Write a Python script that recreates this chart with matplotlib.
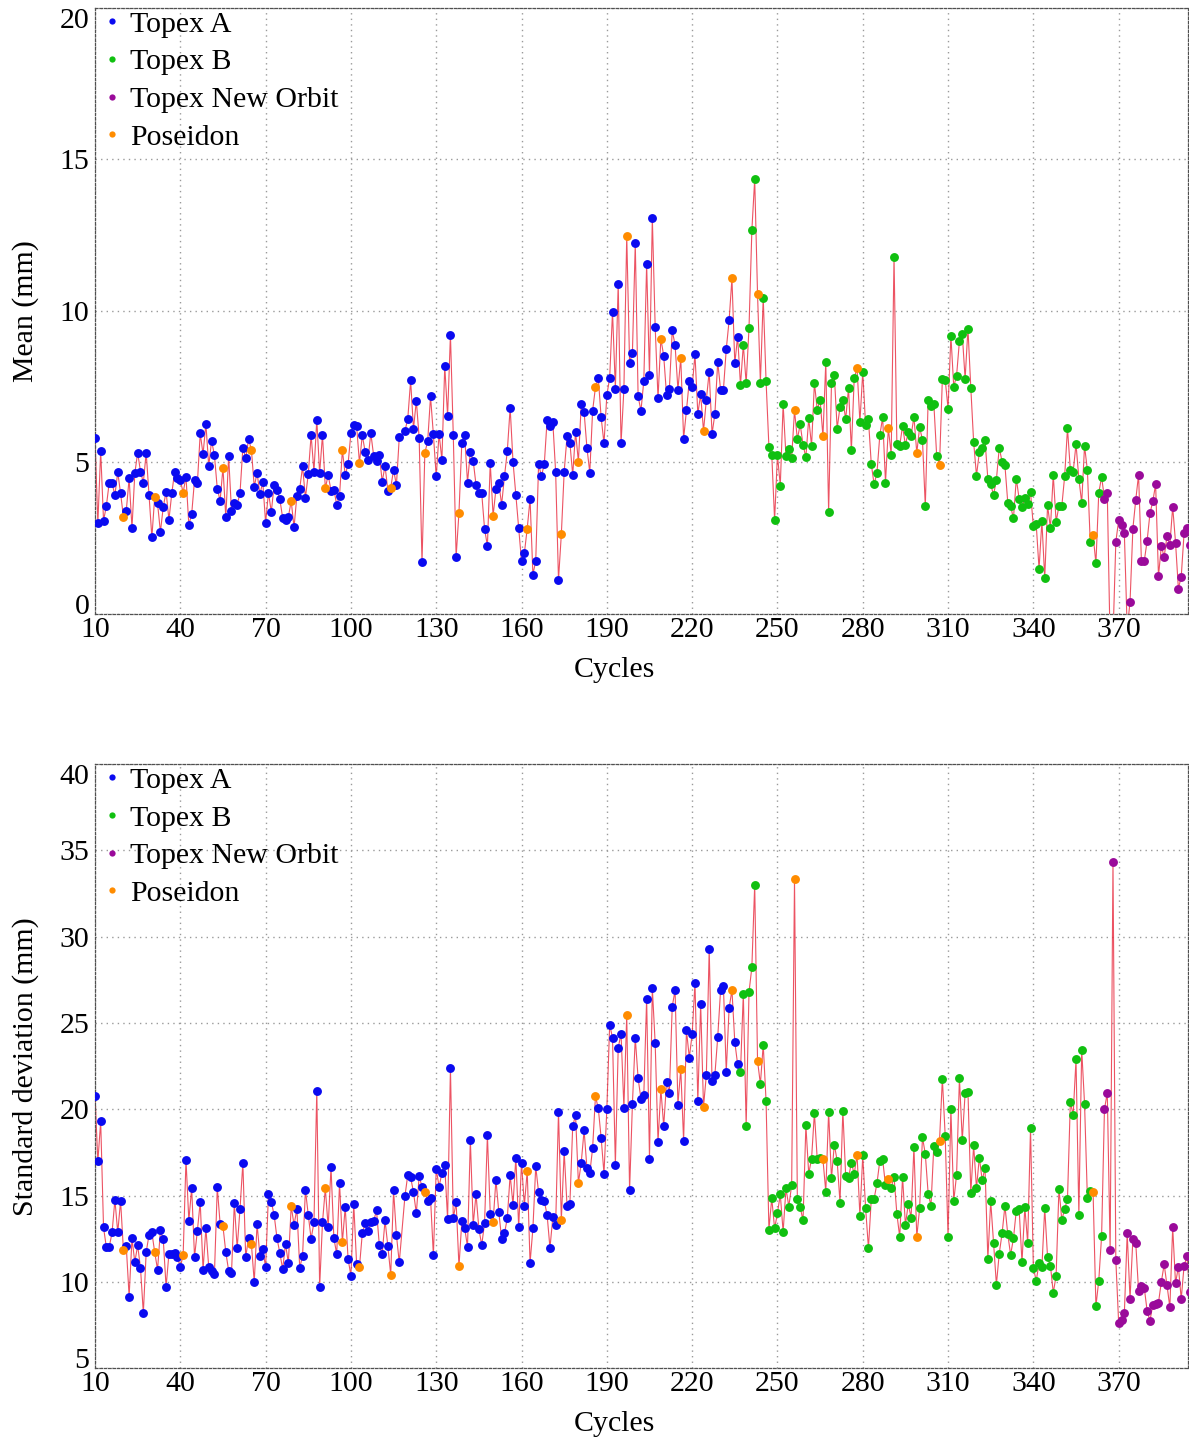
import matplotlib
matplotlib.use("Agg")
import matplotlib.pyplot as plt
from matplotlib.lines import Line2D
import numpy as np

plt.rcParams['font.family'] = ['Liberation Serif', 'DejaVu Serif']

# cycle 118 has no data
cycles = [c for c in range(10, 396) if c != 118]

mean_mm = [
    5.79, 2.98, 5.37, 3.07, 3.56, 4.33, 4.30, 3.92, 4.67, 3.97,   # 10
    3.20, 3.40, 4.47, 2.83, 4.63, 5.32, 4.69, 4.33, 5.32, 3.93,   # 20
    2.52, 3.86, 3.64, 2.70, 3.52, 4.03, 3.10, 3.97, 4.68, 4.47,   # 30
    4.40, 4.00, 4.52, 2.93, 3.29, 4.41, 4.30, 5.95, 5.27, 6.27,   # 40
    4.87, 5.71, 5.23, 4.13, 3.73, 4.82, 3.18, 5.20, 3.39, 3.67,   # 50
    3.59, 3.99, 5.48, 5.13, 5.76, 5.42, 4.19, 4.65, 3.94, 4.35,   # 60
    3.00, 4.00, 3.36, 4.25, 4.10, 3.78, 3.16, 3.10, 3.20, 3.72,   # 70
    2.85, 3.90, 4.13, 4.86, 3.83, 4.61, 5.90, 4.69, 6.41, 4.63,   # 80
    5.90, 4.14, 4.58, 4.06, 4.10, 3.60, 3.90, 5.40, 4.57, 4.94,   # 90
    5.97, 6.22, 6.20, 4.98, 5.89, 5.35, 5.08, 5.96, 5.21, 5.04,   # 100
    5.25, 4.36, 4.88, 4.06, 4.16, 4.75, 4.24, 5.82, 6.03,         # 110 (no 118)
    6.44, 7.70, 6.10, 7.03, 5.81, 1.70, 5.31, 5.70, 7.17, 5.92,   # 120
    4.53, 5.94, 5.08, 8.18, 6.53, 9.21, 5.89, 1.88, 3.34, 5.63,   # 130
    5.89, 4.33, 5.34, 5.05, 4.25, 3.98, 3.98, 2.80, 2.24, 4.98,   # 140
    3.23, 4.12, 4.32, 3.60, 4.53, 5.37, 6.80, 5.02, 3.92, 2.83,   # 150
    1.73, 2.00, 2.81, 3.79, 1.29, 1.75, 4.93, 4.55, 4.93, 6.40,   # 160
    6.20, 6.34, 4.67, 1.12, 2.62, 4.69, 5.85, 5.65, 4.58, 6.00,   # 170
    5.02, 6.92, 6.66, 5.48, 4.66, 6.70, 7.48, 7.77, 6.48, 5.62,   # 180
    7.21, 7.79, 9.97, 7.43, 10.88, 5.62, 7.41, 12.48, 8.28, 8.62,  # 190
    12.23, 7.17, 6.70, 7.68, 11.54, 7.87, 13.06, 9.47, 7.11, 9.08,  # 200
    8.51, 7.22, 7.43, 9.35, 8.87, 7.40, 8.44, 5.78, 6.71, 7.69,   # 210
    7.48, 8.56, 6.60, 7.24, 6.03, 7.07, 7.99, 5.94, 6.59, 8.32,   # 220
    7.39, 7.39, 8.73, 9.68, 11.07, 8.26, 9.15, 7.54, 8.88, 7.60,  # 230
    9.44, 12.65, 14.34, 10.55, 7.63, 10.43, 7.68, 5.51, 5.25, 3.09,  # 240
    5.24, 4.23, 6.92, 5.19, 5.43, 5.15, 6.71, 5.76, 6.25, 5.58,   # 250
    5.16, 6.45, 5.54, 7.62, 6.73, 7.07, 5.85, 8.31, 3.35, 7.60,   # 260
    7.88, 6.11, 6.83, 7.06, 6.42, 7.45, 5.39, 7.78, 8.10, 6.32,   # 270
    7.98, 6.22, 6.42, 4.94, 4.27, 4.65, 5.89, 6.48, 4.33, 6.13,   # 280
    5.25, 11.79, 5.60, 5.55, 6.20, 5.56, 6.01, 5.88, 6.50, 5.31,  # 290
    6.15, 5.74, 3.54, 7.07, 6.87, 6.93, 5.21, 4.92, 7.76, 7.72,   # 300
    6.77, 9.18, 7.49, 7.86, 9.00, 9.23, 7.75, 9.41, 7.46, 5.66,   # 310
    4.56, 5.33, 5.46, 5.73, 4.44, 4.27, 3.92, 4.42, 5.48, 5.02,   # 320
    4.90, 3.67, 3.54, 3.15, 4.46, 3.79, 3.51, 3.81, 3.62, 4.01,   # 330
    2.88, 2.96, 1.48, 3.06, 1.17, 3.58, 2.83, 4.58, 3.04, 3.55,   # 340
    3.55, 4.53, 6.12, 4.76, 4.68, 5.60, 4.46, 3.66, 5.54, 4.74,   # 350
    2.37, 2.60, 1.66, 3.99, 4.52, 3.80, 3.97, -1.00, -0.80, 2.37,  # 360
    3.09, 2.92, 2.65, -0.50, 0.39, 2.81, 3.75, 4.59, 1.74, 1.74,  # 370
    2.40, 3.31, 3.71, 4.27, 1.24, 2.23, 1.88, 2.56, 2.27, 3.53,   # 380
    2.35, 0.83, 1.22, 2.65, 2.84, 2.26,                           # 390
]

std_mm = [
    20.80, 16.98, 19.30, 13.16, 12.00, 12.02, 12.87, 14.76, 12.87, 14.70,  # 10
    11.83, 12.06, 9.16, 12.52, 11.15, 12.12, 10.81, 8.20, 11.73, 12.73,    # 20
    12.87, 11.72, 10.71, 12.99, 12.49, 9.71, 11.64, 11.64, 11.68, 11.45,   # 30
    10.87, 11.56, 17.08, 13.56, 15.44, 11.45, 12.97, 14.63, 10.71, 13.12,  # 40
    10.85, 10.65, 10.46, 15.48, 13.38, 13.22, 11.73, 10.65, 10.52, 14.57,  # 50
    11.96, 14.24, 16.90, 11.43, 12.56, 12.21, 10.00, 13.36, 11.50, 11.93,  # 60
    10.85, 15.07, 14.63, 13.88, 12.54, 11.68, 10.75, 12.20, 11.10, 14.40,  # 70
    13.30, 14.24, 10.81, 11.53, 15.34, 13.88, 12.50, 13.45, 21.09, 9.71,   # 80
    13.45, 15.42, 13.18, 16.67, 12.54, 11.62, 15.73, 12.31, 14.35, 11.33,  # 90
    10.37, 14.51, 11.04, 10.87, 12.81, 13.41, 12.93, 13.45, 13.53, 14.15,  # 100
    12.12, 11.64, 13.57, 12.06, 10.42, 15.30, 12.73, 11.13, 14.97,         # 110 (no 118)
    16.21, 16.07, 15.20, 13.99, 16.11, 15.53, 15.19, 14.67, 14.86, 11.54,  # 120
    16.54, 15.53, 16.30, 16.75, 13.64, 22.42, 13.70, 14.61, 10.90, 13.51,  # 130
    13.12, 12.04, 18.24, 13.32, 15.09, 13.08, 12.14, 13.41, 18.50, 13.95,  # 140
    13.49, 15.92, 14.07, 12.51, 12.81, 13.70, 16.21, 14.45, 17.21, 13.18,  # 150
    16.92, 14.43, 16.44, 11.10, 13.10, 16.69, 15.19, 14.75, 14.69, 13.88,  # 160
    11.97, 13.74, 13.32, 19.86, 13.60, 17.56, 14.41, 14.49, 19.04, 19.66,  # 170
    15.73, 16.92, 18.78, 16.60, 16.29, 17.75, 20.76, 20.05, 18.35, 16.27,  # 180
    20.01, 24.91, 24.14, 16.79, 23.56, 24.39, 20.10, 25.47, 15.30, 20.32,  # 190
    24.14, 21.80, 20.59, 20.82, 26.41, 17.15, 27.01, 23.83, 18.13, 21.17,  # 200
    19.03, 21.56, 20.97, 25.95, 26.90, 20.27, 22.34, 18.17, 24.58, 23.00,  # 210
    24.34, 27.32, 20.48, 26.10, 20.15, 22.00, 29.29, 21.62, 22.00, 24.18,  # 220
    26.90, 27.14, 22.17, 25.87, 26.90, 23.90, 22.60, 22.17, 26.70, 19.05,  # 230
    26.79, 28.22, 33.00, 22.81, 21.46, 23.75, 20.48, 13.04, 14.84, 13.10,  # 240
    13.98, 15.08, 12.90, 15.43, 14.37, 15.61, 33.33, 14.80, 14.33, 13.57,  # 250
    19.07, 16.27, 17.15, 19.80, 17.10, 17.21, 17.10, 15.23, 19.86, 16.00,  # 260
    17.96, 17.02, 14.59, 19.93, 16.12, 16.02, 16.92, 16.25, 17.37, 13.83,  # 270
    17.33, 14.30, 11.96, 14.80, 14.82, 15.72, 17.02, 17.10, 15.59, 15.94,  # 280
    15.45, 16.10, 13.94, 12.61, 16.10, 13.30, 14.51, 13.73, 17.84, 12.61,  # 290
    14.26, 18.39, 17.41, 15.12, 14.43, 17.90, 17.50, 18.19, 21.77, 18.45,  # 300
    12.61, 20.01, 14.69, 16.21, 21.81, 18.21, 20.93, 21.03, 15.16, 17.92,  # 310
    15.43, 17.21, 15.90, 16.59, 11.34, 14.69, 12.26, 9.85, 11.65, 12.81,   # 320
    14.41, 12.77, 11.57, 12.53, 14.14, 14.22, 11.14, 14.33, 12.26, 18.92,  # 330
    10.83, 10.07, 11.08, 10.85, 14.28, 11.42, 10.95, 9.38, 10.36, 15.41,   # 340
    13.59, 14.22, 14.80, 20.40, 19.70, 22.89, 13.88, 23.46, 20.33, 14.86,  # 350
    15.29, 15.22, 8.60, 10.08, 12.66, 20.01, 20.95, 11.85, 34.35, 11.27,   # 360
    7.61, 7.80, 8.19, 12.82, 9.02, 12.49, 12.28, 9.50, 9.77, 9.67,         # 370
    8.34, 7.76, 8.67, 8.71, 8.80, 10.00, 11.02, 9.81, 8.53, 13.16,         # 380
    9.92, 10.89, 9.02, 10.93, 11.50, 9.40,                                 # 390
]

poseidon_cycles = [20, 31, 41, 55, 65, 79, 91, 97, 103, 114, 126, 138, 150,
                   162, 174, 180, 186, 197, 209, 216, 224, 234, 243, 256,
                   266, 278, 289, 299, 307, 361]
topex_b_start = 237
new_orbit_start = 365

labels = ['Topex A', 'Topex B', 'Topex New Orbit', 'Poseidon']
colors = ['#0a0af0', '#10c010', '#9a0a9a', '#ff8c00']

assert len(cycles) == len(mean_mm) == len(std_mm)

FS = 21.5


def mission_of(c):
    if c in poseidon_cycles:
        return 3
    if c >= new_orbit_start:
        return 2
    if c >= topex_b_start:
        return 1
    return 0


def draw_panel(ax, values, ylim, yticks, ylabel):
    x = np.array(cycles)
    y = np.array(values)
    group = np.array([mission_of(c) for c in cycles])

    ax.plot(x, y, color='#e8283c', lw=0.8, alpha=0.8, zorder=2)
    for g in range(4):
        m = group == g
        ax.plot(x[m], y[m], 'o', color=colors[g], ms=6.4, mec='none', zorder=3)

    ax.set_xlim(10, 394.4)
    ax.set_ylim(*ylim)
    ax.set_xticks(range(10, 371, 30))
    ax.set_yticks(yticks)
    ax.grid(True, color='#9a9a9a', linestyle=(0, (1, 3)), lw=1.0)
    ax.tick_params(length=0, labelsize=FS, pad=4)
    ax.tick_params(axis='x', pad=2)
    for s in ax.spines.values():
        s.set_linestyle((0, (2, 1.5)))
        s.set_color('#505050')
        s.set_linewidth(0.9)

    # end labels are pulled inside the frame
    ylabels = ax.get_yticklabels()
    ylabels[0].set_verticalalignment('baseline')
    ylabels[-1].set_verticalalignment('top')

    ax.set_xlabel('Cycles', fontsize=FS, labelpad=6)
    ax.xaxis.set_label_coords(0.475, -0.071)
    ax.set_ylabel(ylabel, fontsize=FS)
    ax.yaxis.set_label_coords(-0.051, 0.5)

    handles = [Line2D([], [], ls='none', marker='o', ms=4.5, mec='none',
                      color=colors[g]) for g in range(4)]
    ax.legend(handles, labels, loc='upper left', bbox_to_anchor=(0.0087, 0.995),
              frameon=False, fontsize=FS, handlelength=0.5, handletextpad=0.35,
              labelspacing=0.36, borderaxespad=0, borderpad=0)


fig = plt.figure(figsize=(11.89, 14.39), dpi=100)
ax1 = fig.add_axes([0.0799, 0.5735, 0.9193, 0.4211])
ax2 = fig.add_axes([0.0799, 0.0491, 0.9193, 0.4200])

draw_panel(ax1, mean_mm, (0, 20), [0, 5, 10, 15, 20], 'Mean (mm)')
draw_panel(ax2, std_mm, (5, 40), [5, 10, 15, 20, 25, 30, 35, 40],
           'Standard deviation (mm)')

fig.savefig('out.png', dpi=100)
